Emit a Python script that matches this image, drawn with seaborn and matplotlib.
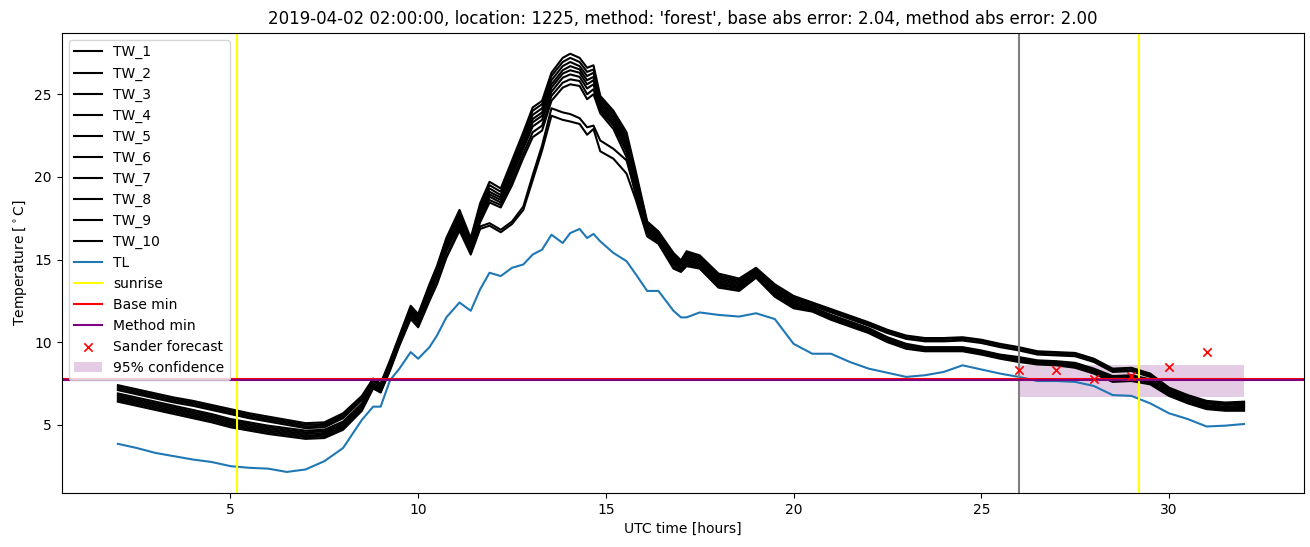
import matplotlib
matplotlib.use("Agg")
import matplotlib.pyplot as plt
import seaborn as sns

# time axis (UTC hours)
hours = [2, 2.5, 3, 3.5, 4, 4.5, 5, 5.5, 6, 6.5, 7, 7.5, 8,
         8.5, 8.8, 9, 9.25, 9.5, 9.8, 10, 10.3, 10.5, 10.75,
         11.1, 11.4, 11.65, 11.9, 12.2, 12.5, 12.8, 13.05, 13.3, 13.55,
         13.85, 14.05, 14.3, 14.5, 14.67, 14.85, 15.2, 15.55, 15.8, 16.1,
         16.4, 16.8, 17.0, 17.15, 17.5, 18.0, 18.55, 19.0, 19.5, 20.0,
         20.5, 21, 21.5, 22, 22.5, 23, 23.5, 24, 24.5, 25,
         25.5, 26, 26.5, 27, 27.5, 28, 28.5, 29, 29.5, 30,
         30.5, 31, 31.5, 32]

TL = [3.85, 3.6, 3.3, 3.1, 2.9, 2.75, 2.5, 2.4, 2.35, 2.15, 2.3, 2.8, 3.6,
      5.3, 6.1, 6.1, 7.7, 8.4, 9.4, 9.0, 9.7, 10.4, 11.5,
      12.4, 11.9, 13.2, 14.2, 14.0, 14.5, 14.7, 15.3, 15.6, 16.5,
      16.0, 16.6, 16.85, 16.3, 16.55, 16.1, 15.4, 14.9, 14.1, 13.1,
      13.1, 11.9, 11.5, 11.5, 11.8, 11.65, 11.55, 11.75, 11.4, 9.9,
      9.3, 9.3, 8.8, 8.4, 8.15, 7.9, 8.0, 8.2, 8.6, 8.35,
      8.1, 7.9, 7.65, 7.65, 7.6, 7.35, 6.8, 6.75, 6.3, 5.7,
      5.35, 4.9, 4.95, 5.05]

TW_1 = [7.4, 7.15, 6.9, 6.65, 6.45, 6.2, 5.95, 5.7, 5.5, 5.3, 5.1, 5.15, 5.7,
        6.75, 7.8, 7.5, 8.9, 10.4, 12.2, 11.7, 13.5, 14.6, 16.3,
        18.0, 16.3, 18.4, 19.7, 19.3, 21.0, 22.7, 24.2, 24.6, 26.3,
        27.2, 27.45, 27.2, 26.6, 26.75, 24.9, 24.0, 22.7, 20.3, 17.3,
        16.7, 15.4, 14.95, 15.5, 15.25, 14.15, 13.85, 14.5, 13.5, 12.8,
        12.4, 12.0, 11.6, 11.2, 10.75, 10.4, 10.25, 10.25, 10.3, 10.15,
        9.9, 9.7, 9.45, 9.4, 9.35, 9.0, 8.4, 8.45, 8.1, 7.25,
        6.8, 6.45, 6.35, 6.4]
TW_2 = [7.3, 7.05, 6.8, 6.55, 6.35, 6.1, 5.85, 5.6, 5.4, 5.2, 5.0, 5.05, 5.6,
        6.65, 7.75, 7.45, 8.8, 10.3, 12.1, 11.6, 13.4, 14.5, 16.2,
        17.85, 16.2, 18.2, 19.5, 19.1, 20.8, 22.5, 24.0, 24.4, 26.1,
        26.95, 27.2, 26.95, 26.35, 26.5, 24.75, 23.85, 22.5, 20.1, 17.2,
        16.6, 15.3, 14.9, 15.4, 15.15, 14.05, 13.75, 14.4, 13.4, 12.7,
        12.35, 11.95, 11.55, 11.15, 10.7, 10.35, 10.2, 10.2, 10.25, 10.1,
        9.85, 9.65, 9.4, 9.35, 9.3, 8.95, 8.35, 8.4, 8.05, 7.2,
        6.75, 6.4, 6.3, 6.35]
TW_3 = [7.2, 6.95, 6.7, 6.45, 6.25, 6.0, 5.75, 5.5, 5.3, 5.1, 4.9, 4.95, 5.5,
        6.6, 7.7, 7.4, 8.75, 10.25, 12.0, 11.5, 13.3, 14.4, 16.05,
        17.7, 16.05, 18.0, 19.3, 18.9, 20.6, 22.3, 23.75, 24.15, 25.85,
        26.7, 26.95, 26.7, 26.1, 26.3, 24.6, 23.7, 22.3, 19.9, 17.1,
        16.5, 15.2, 14.8, 15.3, 15.05, 13.95, 13.65, 14.3, 13.3, 12.6,
        12.25, 11.85, 11.45, 11.05, 10.6, 10.25, 10.1, 10.1, 10.15, 10.0,
        9.75, 9.55, 9.3, 9.25, 9.2, 8.85, 8.25, 8.3, 7.95, 7.15,
        6.7, 6.35, 6.25, 6.3]
TW_4 = [7.1, 6.85, 6.6, 6.35, 6.15, 5.9, 5.65, 5.4, 5.2, 5.0, 4.8, 4.85, 5.4,
        6.5, 7.65, 7.35, 8.7, 10.2, 11.95, 11.45, 13.2, 14.3, 15.95,
        17.6, 15.95, 17.85, 19.1, 18.75, 20.4, 22.1, 23.5, 23.9, 25.6,
        26.45, 26.7, 26.5, 25.85, 26.05, 24.45, 23.55, 22.1, 19.7, 17.0,
        16.4, 15.1, 14.7, 15.2, 14.95, 13.85, 13.55, 14.25, 13.2, 12.5,
        12.2, 11.8, 11.4, 11.0, 10.55, 10.2, 10.05, 10.05, 10.1, 9.95,
        9.7, 9.5, 9.25, 9.2, 9.15, 8.8, 8.2, 8.25, 7.9, 7.1,
        6.65, 6.3, 6.2, 6.25]
TW_5 = [6.9, 6.65, 6.4, 6.15, 5.9, 5.65, 5.35, 5.15, 4.95, 4.8, 4.65, 4.7, 5.2,
        6.3, 7.5, 7.25, 8.6, 10.1, 11.85, 11.35, 13.1, 14.2, 15.85,
        17.5, 15.85, 17.7, 18.95, 18.6, 20.2, 21.9, 23.3, 23.7, 25.4,
        26.25, 26.45, 26.3, 25.6, 25.85, 24.3, 23.4, 21.9, 19.5, 16.9,
        16.3, 15.0, 14.6, 15.1, 14.85, 13.75, 13.45, 14.15, 13.1, 12.4,
        12.1, 11.65, 11.25, 10.85, 10.3, 9.9, 9.7, 9.7, 9.7, 9.5,
        9.25, 9.1, 8.9, 8.85, 8.75, 8.4, 7.95, 8.0, 7.75, 7.0,
        6.55, 6.2, 6.1, 6.15]
TW_6 = [6.8, 6.55, 6.3, 6.05, 5.8, 5.55, 5.25, 5.05, 4.85, 4.7, 4.55, 4.6, 5.1,
        6.2, 7.45, 7.2, 8.55, 10.05, 11.8, 11.3, 13.0, 14.1, 15.75,
        17.4, 15.75, 17.55, 18.8, 18.45, 20.0, 21.7, 23.05, 23.45, 25.15,
        26.0, 26.2, 26.05, 25.35, 25.6, 24.15, 23.25, 21.7, 19.3, 16.8,
        16.2, 14.9, 14.5, 15.0, 14.75, 13.65, 13.35, 14.1, 13.0, 12.3,
        12.05, 11.6, 11.2, 10.8, 10.25, 9.85, 9.65, 9.65, 9.65, 9.45,
        9.2, 9.05, 8.85, 8.8, 8.7, 8.35, 7.9, 7.95, 7.7, 6.95,
        6.5, 6.15, 6.05, 6.1]
TW_7 = [6.7, 6.45, 6.2, 5.95, 5.7, 5.45, 5.15, 4.95, 4.75, 4.6, 4.45, 4.5, 5.0,
        6.15, 7.4, 7.15, 8.5, 10.0, 11.7, 11.2, 12.9, 14.0, 15.6,
        17.25, 15.6, 17.4, 18.6, 18.3, 19.75, 21.4, 22.7, 23.1, 24.9,
        25.7, 25.9, 25.8, 25.0, 25.3, 24.0, 23.1, 21.5, 19.1, 16.7,
        16.15, 14.8, 14.45, 14.9, 14.7, 13.55, 13.3, 14.05, 12.95, 12.25,
        12.0, 11.5, 11.1, 10.7, 10.15, 9.75, 9.6, 9.6, 9.6, 9.4,
        9.15, 8.95, 8.8, 8.75, 8.6, 8.25, 7.8, 7.85, 7.6, 6.9,
        6.45, 6.1, 6.0, 6.05]
TW_8 = [6.6, 6.35, 6.1, 5.85, 5.6, 5.35, 5.05, 4.85, 4.65, 4.5, 4.35, 4.4, 4.9,
        6.05, 7.35, 7.1, 8.45, 9.95, 11.65, 11.15, 12.8, 13.9, 15.5,
        17.1, 15.5, 17.25, 18.45, 18.15, 19.5, 21.15, 22.4, 22.8, 24.6,
        25.4, 25.6, 25.5, 24.7, 25.0, 23.85, 22.9, 21.2, 18.85, 16.6,
        16.1, 14.7, 14.4, 14.8, 14.6, 13.45, 13.25, 14.0, 12.9, 12.2,
        11.95, 11.45, 11.05, 10.65, 10.1, 9.7, 9.55, 9.55, 9.55, 9.35,
        9.1, 8.9, 8.75, 8.7, 8.55, 8.2, 7.75, 7.8, 7.55, 6.85,
        6.4, 6.05, 5.95, 6.0]
TW_9 = [6.5, 6.25, 6.0, 5.75, 5.5, 5.25, 4.95, 4.75, 4.55, 4.4, 4.25, 4.3, 4.8,
        5.95, 7.3, 7.0, 8.35, 9.85, 11.5, 11.0, 12.6, 13.6, 15.2,
        16.9, 15.4, 17.0, 17.2, 16.8, 17.3, 18.2, 20.1, 21.9, 24.15,
        23.9, 23.8, 23.55, 23.0, 23.1, 22.2, 21.7, 21.0, 19.0, 16.5,
        16.0, 14.55, 14.3, 14.7, 14.5, 13.35, 13.15, 13.95, 12.8, 12.1,
        11.9, 11.4, 11.0, 10.6, 10.05, 9.65, 9.5, 9.5, 9.5, 9.3,
        9.05, 8.85, 8.7, 8.65, 8.5, 8.15, 7.65, 7.7, 7.5, 6.8,
        6.35, 6.0, 5.9, 5.9]
TW_10 = [6.4, 6.15, 5.9, 5.65, 5.4, 5.15, 4.85, 4.65, 4.45, 4.3, 4.15, 4.2, 4.7,
         5.85, 7.2, 6.95, 8.3, 9.8, 11.4, 10.9, 12.5, 13.5, 15.1,
         16.75, 15.3, 16.85, 17.05, 16.65, 17.15, 18.0, 19.8, 21.6, 23.7,
         23.45, 23.35, 23.2, 22.55, 22.9, 21.55, 21.1, 20.2, 18.6, 16.4,
         15.95, 14.45, 14.25, 14.6, 14.45, 13.3, 13.1, 13.9, 12.75, 12.05,
         11.85, 11.35, 10.95, 10.55, 10.0, 9.6, 9.45, 9.45, 9.45, 9.25,
         9.0, 8.8, 8.65, 8.6, 8.45, 8.1, 7.6, 7.65, 7.45, 6.75,
         6.3, 5.95, 5.85, 5.85]

tw_series = [TW_1, TW_2, TW_3, TW_4, TW_5, TW_6, TW_7, TW_8, TW_9, TW_10]
tw_labels = ["TW_1", "TW_2", "TW_3", "TW_4", "TW_5",
             "TW_6", "TW_7", "TW_8", "TW_9", "TW_10"]

sunrise_hours = [5.16, 29.19]
forecast_start = 26.0
base_min = 7.80
method_min = 7.74

sander_hours = [26, 27, 28, 29, 30, 31]
sander_temp = [8.31, 8.31, 7.75, 7.95, 8.47, 9.38]

conf_hours = [26, 32]
conf_low = [6.7, 6.7]
conf_high = [8.6, 8.6]

title = ("2019-04-02 02:00:00, location: 1225, method: 'forest', "
         "base abs error: 2.04, method abs error: 2.00")

fig, ax = plt.subplots(figsize=(13.1, 5.47), dpi=100)
fig.subplots_adjust(left=0.047, right=0.9955, top=0.94, bottom=0.099)

for series, name in zip(tw_series, tw_labels):
    sns.lineplot(x=hours, y=series, color="black", label=name, ax=ax)
sns.lineplot(x=hours, y=TL, color="#1f77b4", label="TL", ax=ax)

ax.axvline(sunrise_hours[0], color="yellow", label="sunrise")
ax.axvline(sunrise_hours[1], color="yellow")
ax.axvline(forecast_start, color="grey")
ax.axhline(base_min, color="red", label="Base min")
ax.axhline(method_min, color="purple", label="Method min")

sns.scatterplot(x=sander_hours, y=sander_temp, marker="x", color="red",
                s=36, linewidth=1.2, label="Sander forecast", zorder=3, ax=ax)
ax.fill_between(conf_hours, conf_low, conf_high, color="purple", alpha=0.2,
                linewidth=0, label="95% confidence")

ax.set_xlim(0.5, 33.6)
ax.set_title(title)
ax.set_xlabel("UTC time [hours]")
ax.set_ylabel(r"Temperature [$^\circ$C]")
ax.legend(loc="upper left")

plt.savefig("out.png", dpi=100)
